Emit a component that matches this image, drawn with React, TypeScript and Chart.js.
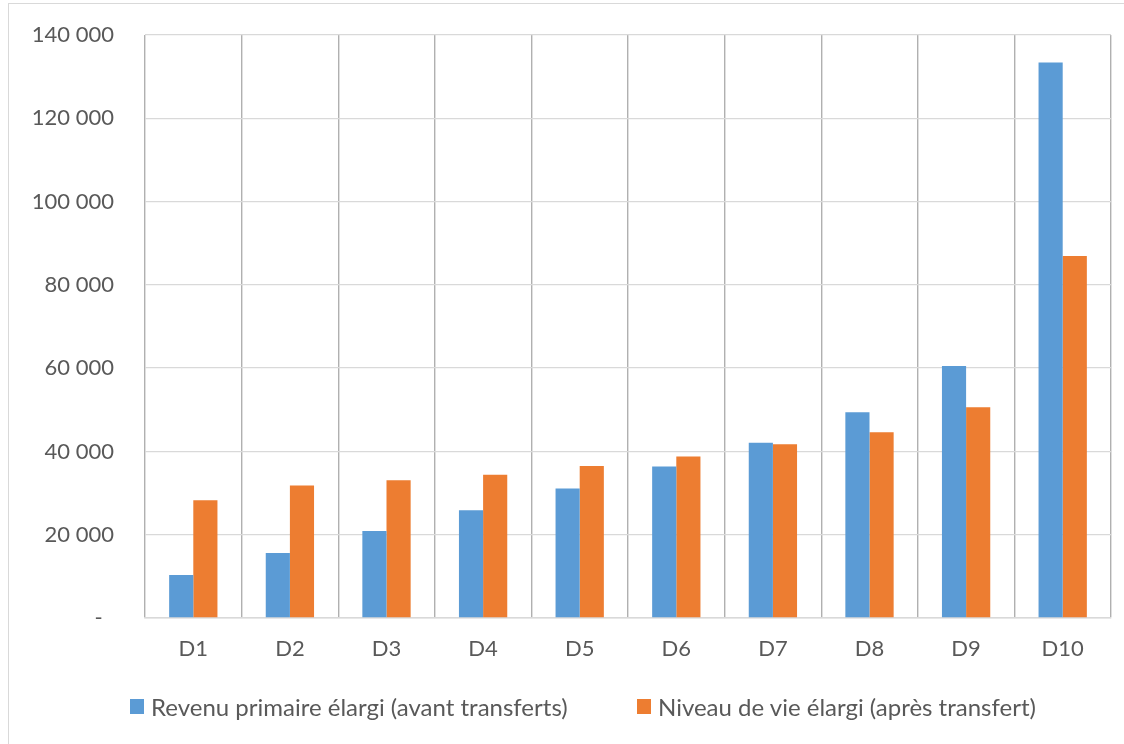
import React, { useEffect, useRef } from "react";
import { Chart, registerables } from "chart.js";

Chart.register(...registerables);

const categories = ["D1", "D2", "D3", "D4", "D5", "D6", "D7", "D8", "D9", "D10"];
const revenuPrimaire = [10300, 15600, 20900, 25900, 31100, 36400, 42100, 49400, 60500, 133400];
const niveauDeVie = [28300, 31800, 33100, 34400, 36500, 38800, 41700, 44600, 50600, 86900];
const seriesLabels = [
  "Revenu primaire élargi (avant transferts)",
  "Niveau de vie élargi (après transfert)",
];
const seriesColors = ["#5b9bd5", "#ed7d31"];
const yMax = 140000;
const yStep = 20000;

const FONT = "Lato, 'Liberation Sans', sans-serif";
const TEXT = "#595959";

function fmt(v: number): string {
  if (v === 0) return "-  ";
  return String(v).replace(/\B(?=(\d{3})+(?!\d))/g, " ");
}

export default function App() {
  const ref = useRef<HTMLCanvasElement | null>(null);

  useEffect(() => {
    if (!ref.current) return;
    const chart = new Chart(ref.current, {
      type: "bar",
      data: {
        labels: categories,
        datasets: [
          {
            label: seriesLabels[0],
            data: revenuPrimaire,
            backgroundColor: seriesColors[0],
            borderWidth: 0,
            categoryPercentage: 0.5,
            barPercentage: 1,
          },
          {
            label: seriesLabels[1],
            data: niveauDeVie,
            backgroundColor: seriesColors[1],
            borderWidth: 0,
            categoryPercentage: 0.5,
            barPercentage: 1,
          },
        ],
      },
      options: {
        responsive: false,
        animation: false,
        devicePixelRatio: 1,
        layout: { padding: { left: 0, right: 13, top: 35, bottom: 59 } },
        plugins: {
          tooltip: { enabled: false },
          legend: { display: false },
        },
        scales: {
          x: {
            grid: {
              color: "#b0b0b0",
              lineWidth: 1.4,
              drawTicks: false,
              offset: true,
            },
            border: { color: "#d9d9d9", width: 1.5 },
            ticks: {
              color: TEXT,
              font: { family: FONT, size: 22 },
              padding: 18,
            },
            afterFit: (scale: any) => {
              scale.height = 67;
            },
          },
          y: {
            min: 0,
            max: yMax,
            grid: {
              color: "#d9d9d9",
              lineWidth: 1.3,
              drawTicks: true,
              tickLength: 31,
              tickColor: "rgba(0,0,0,0)",
            },
            border: { display: false },
            ticks: {
              stepSize: yStep,
              color: TEXT,
              font: { family: FONT, size: 22 },
              padding: 0,
              callback: (v: any) => fmt(Number(v)),
            },
            afterFit: (scale: any) => {
              scale.width = 145;
            },
          },
        },
      },
    });
    return () => chart.destroy();
  }, []);

  const legendLefts = [130, 637];

  return (
    <div
      style={{
        position: "fixed",
        left: 0,
        top: 0,
        width: 1124,
        height: 744,
        background: "#ffffff",
        overflow: "hidden",
      }}
    >
      <div
        style={{
          position: "absolute",
          left: 8,
          top: 3,
          width: 1200,
          height: 800,
          border: "1.5px solid #d9d9d9",
          boxSizing: "border-box",
        }}
      />
      <canvas
        ref={ref}
        width={1124}
        height={744}
        style={{ position: "absolute", left: 0, top: 0 }}
      />
      {seriesLabels.map((label, i) => (
        <div
          key={label}
          style={{
            position: "absolute",
            left: legendLefts[i],
            top: 691,
            height: 30,
            display: "flex",
            alignItems: "center",
            fontFamily: FONT,
            fontSize: 24,
            color: TEXT,
            whiteSpace: "nowrap",
          }}
        >
          <span
            style={{
              display: "inline-block",
              width: 14,
              height: 15,
              background: seriesColors[i],
              marginRight: 7,
            }}
          />
          <span>{label}</span>
        </div>
      ))}
    </div>
  );
}
